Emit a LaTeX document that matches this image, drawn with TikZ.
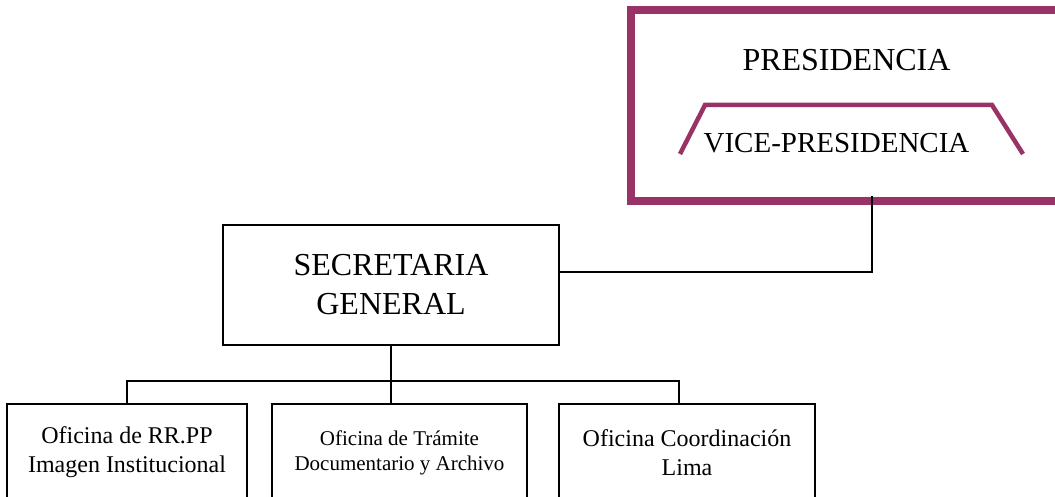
\documentclass[tikz,border=0pt]{standalone}
\usepackage{fontspec}
\setmainfont{Liberation Serif}
\definecolor{pres}{RGB}{153,51,102}
\tikzset{
  presbox/.style={draw=pres, line width=7.5pt, rectangle, inner sep=0pt, outer sep=0pt},
  bigtxt/.style={font=\fontsize{32}{39}\selectfont, align=center, inner sep=0pt},
  vicetxt/.style={font=\fontsize{29}{35}\selectfont, inner sep=0pt},
  secbox/.style={draw=black, line width=1.6pt, rectangle, inner sep=0pt, outer sep=0pt,
    font=\fontsize{32}{39}\selectfont, align=center},
  ofbox/.style={draw=black, line width=1.6pt, rectangle, inner sep=0pt, outer sep=0pt,
    minimum width=#1, minimum height=97pt, font=\fontsize{24}{29}\selectfont, align=center},
  trap/.style={draw=pres, line width=4.5pt},
  conn/.style={draw=black, line width=1.6pt}
}
\begin{document}
\begin{tikzpicture}[x=1pt,y=-1pt]
\useasboundingbox (0,0) rectangle (1055,497);
\clip (0,0) rectangle (1055,497);
\fill[white] (0,0) rectangle (1055,497);
% Presidencia
\node[presbox, minimum width=469pt, minimum height=191pt] (pres) at (865.5,105.5) {};
\node[bigtxt] (prestxt) at (846.5,60) {PRESIDENCIA};
\node[vicetxt] (vice) at (836.5,143.5) {VICE-PRESIDENCIA};
\draw[trap] (680,154) -- (705,105) -- (992,105) -- (1023,154);
% Secretaria
\node[secbox, minimum width=336pt, minimum height=120pt] (sec) at (391,285) {SECRETARIA\\GENERAL};
% Oficinas
\node[ofbox=240pt] (of1) at (127,452.5) {Oficina de RR.PP\\Imagen Institucional};
\node[ofbox=255pt, font=\fontsize{21}{25}\selectfont] (of2) at (399.5,452.5) {Oficina de Trámite\\Documentario y Archivo};
\node[ofbox=256pt] (of3) at (687,452.5) {Oficina Coordinación\\Lima};
% connectors
\coordinate (pjoin) at (872,196);
\coordinate (bus) at (391,381);
\draw[conn] (pjoin) |- ([yshift=13pt]sec.east);
\draw[conn] (sec.south) -- (bus);
\draw[conn] (of1.north) |- (bus) -| ([xshift=-8pt]of3.north);
\draw[conn] (bus) -- ([xshift=-8.5pt]of2.north);
\end{tikzpicture}
\end{document}
